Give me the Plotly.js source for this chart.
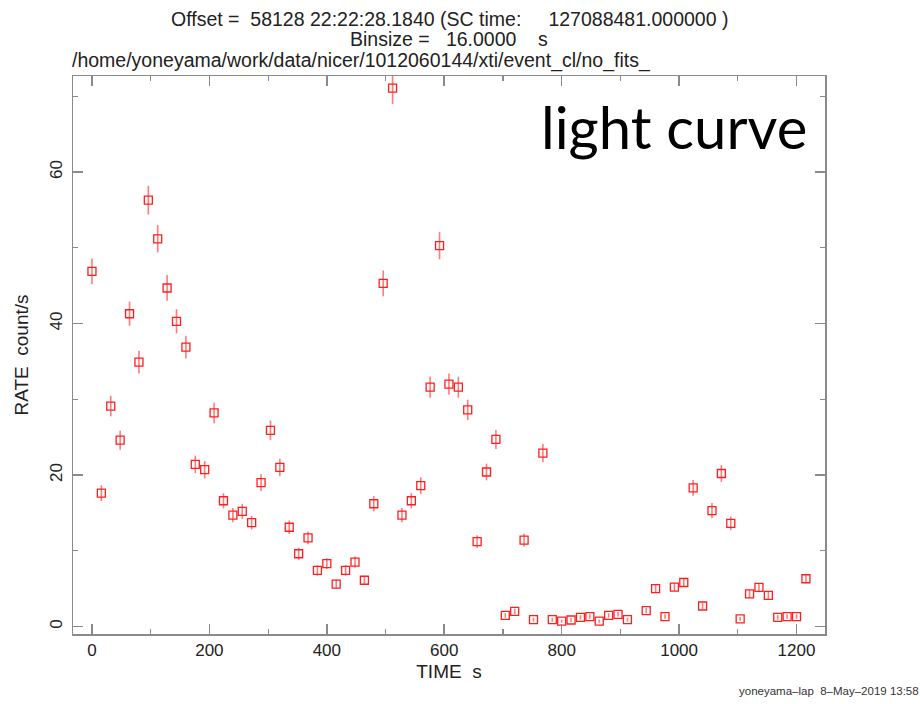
<!DOCTYPE html>
<html>
<head>
<meta charset="utf-8">
<script src="https://cdn.plot.ly/plotly-3.0.1.min.js"></script>
<style>html,body{margin:0;padding:0;background:#fff;}#chart{width:920px;height:704px;}</style>
</head>
<body>
<div id="chart"></div>
<script>
// Time (s) of each 16 s bin (bin at 928 s has no data)
const times = [0,16,32,48,64,80,96,112,128,144,160,176,192,208,224,240,256,272,288,304,
  320,336,352,368,384,400,416,432,448,464,480,496,512,528,544,560,576,592,608,624,
  640,656,672,688,704,720,736,752,768,784,800,816,832,848,864,880,896,912,
  944,960,976,992,1008,1024,1040,1056,1072,1088,1104,1120,1136,1152,1168,1184,1200,1216];
// Count rate (count/s)
const rates = [46.9,17.6,29.1,24.6,41.3,34.9,56.3,51.2,44.7,40.3,36.9,21.4,20.7,28.2,16.6,14.7,15.2,13.7,19.0,25.9,
  21.0,13.1,9.6,11.7,7.4,8.3,5.6,7.4,8.5,6.1,16.2,45.3,71.1,14.7,16.6,18.6,31.6,50.3,32.0,31.6,
  28.6,11.2,20.4,24.7,1.45,2.0,11.4,0.9,22.9,0.9,0.7,0.85,1.2,1.3,0.7,1.45,1.6,0.9,
  2.1,5.0,1.3,5.2,5.8,18.3,2.7,15.3,20.2,13.6,1.0,4.3,5.15,4.1,1.2,1.3,1.3,6.3];
// 1-sigma error on rate (count/s)
const rateErrors = [1.7,1.05,1.35,1.25,1.6,1.5,1.9,1.8,1.7,1.6,1.5,1.15,1.15,1.35,1.0,0.95,1.0,0.9,1.1,1.3,
  1.15,0.9,0.8,0.85,0.7,0.7,0.6,0.7,0.75,0.6,1.0,1.7,2.1,0.95,1.0,1.1,1.4,1.8,1.4,1.4,
  1.35,0.85,1.1,1.25,0.3,0.35,0.85,0.25,1.2,0.25,0.2,0.25,0.3,0.3,0.2,0.3,0.3,0.25,
  0.35,0.55,0.3,0.55,0.6,1.05,0.4,1.0,1.1,0.9,0.25,0.5,0.55,0.5,0.3,0.3,0.3,0.6];

const titleLine1 = "Offset =\u00A0 58128 22:22:28.1840 (SC time:\u00A0\u00A0\u00A0\u00A0 127088481.000000 )";
const titleLine2 = "Binsize =\u00A0\u00A0 16.0000\u00A0\u00A0\u00A0 s";
const titleLine3 = "/home/yoneyama/work/data/nicer/1012060144/xti/event_cl/no_fits_";
const xTitle = "TIME\u00A0 s";
const yTitle = "RATE\u00A0 count/s";
const stamp = "yoneyama\u2013lap\u00A0 8\u2013May\u20132019 13:58";
const overlayText = "light curve";

const axisGray = "#8a8a8a";
const baseFont = "Liberation Sans, Arial, sans-serif";

const trace = {
  type: "scatter",
  mode: "markers",
  x: times,
  y: rates,
  error_y: {type: "data", array: rateErrors, visible: true, color: "rgba(255,90,90,0.8)", thickness: 1.6, width: 0},
  marker: {symbol: "square-open", size: 8, color: "rgb(255,30,30)", line: {width: 1.3, color: "rgb(255,30,30)"}},
  hoverinfo: "x+y"
};

const axisCommon = {
  showgrid: false, zeroline: false,
  showline: true, linecolor: axisGray, linewidth: 1.5,
  mirror: "ticks", ticks: "inside", ticklen: 10, tickwidth: 1.5, tickcolor: axisGray,
  tickfont: {family: baseFont, size: 17, color: "#222"},
  minor: {ticks: "inside", ticklen: 5, tickwidth: 1.2, tickcolor: axisGray, showgrid: false}
};

const layout = {
  width: 920, height: 704,
  margin: {l: 73, r: 95, t: 76, b: 70},
  paper_bgcolor: "#fff", plot_bgcolor: "#fff",
  showlegend: false,
  font: {family: baseFont, color: "#222"},
  xaxis: Object.assign({}, axisCommon, {
    range: [-32.3, 1248.5], tick0: 0, dtick: 200,
    minor: Object.assign({}, axisCommon.minor, {dtick: 100}),
    title: {text: xTitle, font: {family: baseFont, size: 19, color: "#222"}, standoff: 6}
  }),
  yaxis: Object.assign({}, axisCommon, {
    range: [-1.0, 72.7], tick0: 0, dtick: 20, tickangle: -90,
    ticklabelstandoff: 3,
    minor: Object.assign({}, axisCommon.minor, {dtick: 10}),
    title: {text: yTitle, font: {family: baseFont, size: 19, color: "#222"}, standoff: 13}
  }),
  annotations: [
    {text: titleLine1, xref: "paper", yref: "paper", x: 0.5, y: 1.1015, xanchor: "center", yanchor: "middle", showarrow: false, font: {family: baseFont, size: 19.5, color: "#222"}},
    {text: titleLine2, xref: "paper", yref: "paper", x: 0.5, y: 1.0665, xanchor: "center", yanchor: "middle", showarrow: false, font: {family: baseFont, size: 19.5, color: "#222"}},
    {text: titleLine3, xref: "paper", yref: "paper", x: -0.004, y: 1.028, xanchor: "left", yanchor: "middle", showarrow: false, font: {family: baseFont, size: 19.5, color: "#222"}},
    {text: overlayText, xref: "paper", yref: "paper", x: 0.799, y: 0.909, xanchor: "center", yanchor: "middle", showarrow: false, font: {family: "Lato, Noto Sans, sans-serif", size: 58, color: "#000"}},
    {text: stamp, xref: "paper", yref: "paper", x: 1.127, y: -0.103, xanchor: "right", yanchor: "middle", showarrow: false, font: {family: baseFont, size: 11.5, color: "#333"}}
  ]
};

Plotly.newPlot("chart", [trace], layout, {displayModeBar: false, staticPlot: true});
</script>
</body>
</html>
